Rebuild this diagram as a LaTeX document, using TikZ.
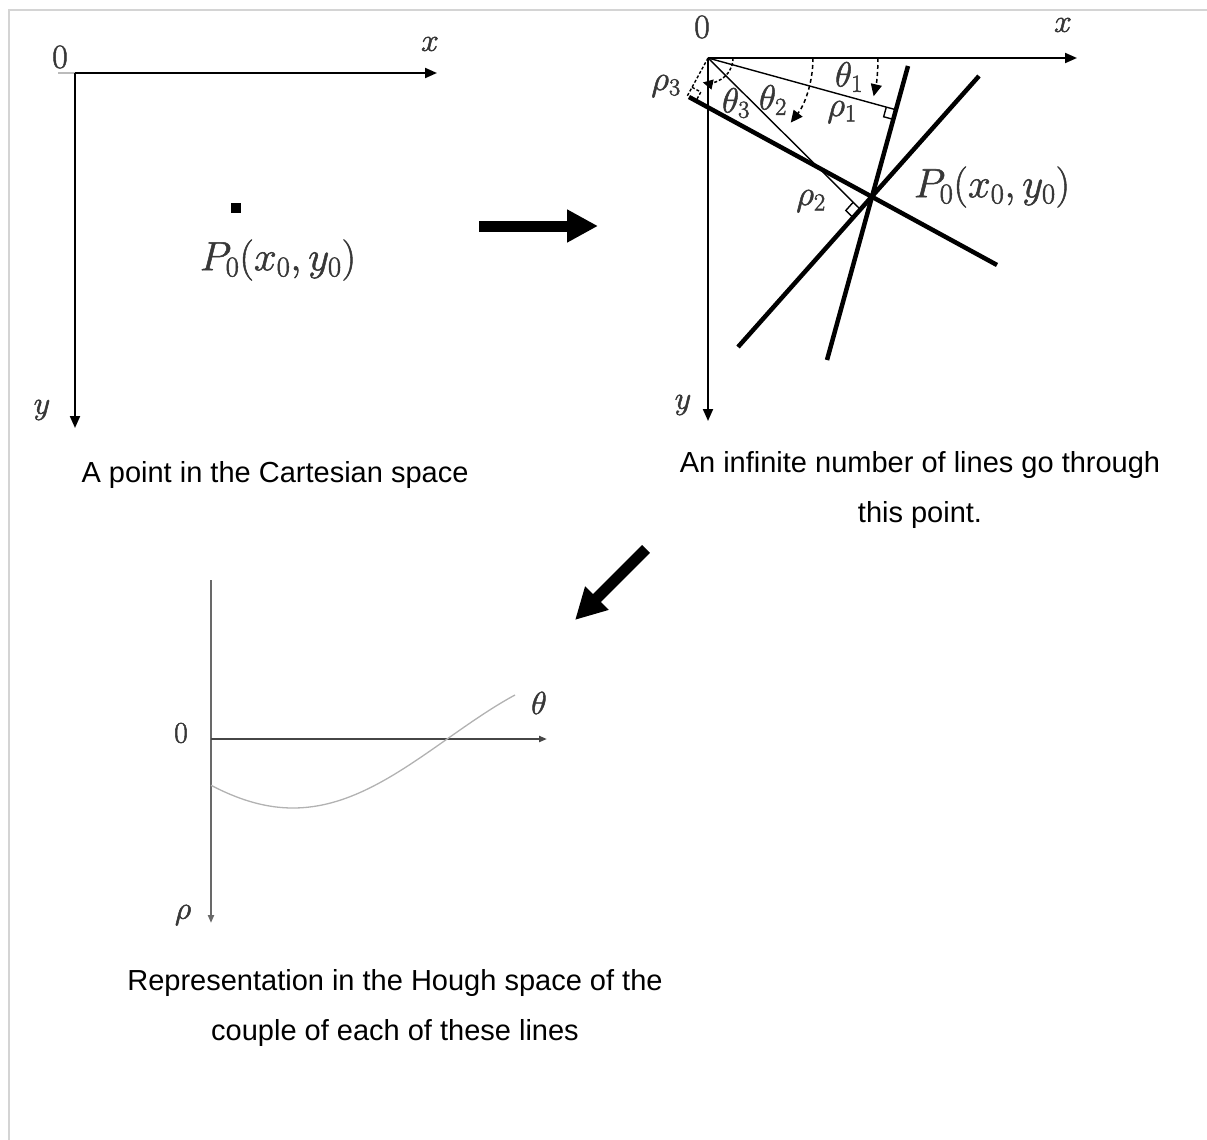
\RequirePackage{fix-cm}
\documentclass[tikz,border=0pt]{standalone}
\usepackage{fontspec}
\newfontfamily\capfont{Liberation Sans}
\usetikzlibrary{arrows.meta,calc}
\definecolor{bordergray}{RGB}{212,212,212}
\definecolor{labelgray}{RGB}{55,55,55}
\definecolor{curvegray}{RGB}{178,178,178}
\definecolor{axisgray}{RGB}{105,105,105}
\definecolor{haxisgray}{RGB}{70,70,70}
\newcommand\heavytext[1]{\special{pdf:literal direct 2 Tr 0.5 w}#1\special{pdf:literal direct 0 Tr}}
\begin{document}
\begin{tikzpicture}[x=1pt,y=-1pt,
  caption/.style={font=\capfont\fontsize{29}{50}\selectfont, text=black, align=center, inner sep=0pt},
  mlabel/.style={text=labelgray, inner sep=0pt, font=\fontsize{32}{32}\selectfont},
  glabel/.style={text=labelgray, inner sep=0pt, font=\fontsize{35}{35}\selectfont},
  zlabel/.style={text=labelgray, inner sep=0pt, font=\fontsize{34}{34}\selectfont},
  plabel/.style={text=labelgray, inner sep=0pt, font=\fontsize{41}{41}\selectfont},
  axis/.style={line width=2pt, -{Triangle[length=12pt,width=10pt]}},
  haxis/.style={line width=2pt, -{Triangle[length=8pt,width=6pt]}},
  thickline/.style={line width=4.5pt},
  thinline/.style={line width=1.4pt},
  dashthin/.style={line width=1.4pt, dash pattern=on 3pt off 2pt},
  anglearc/.style={line width=1.5pt, dash pattern=on 4pt off 3pt, -{Triangle[length=12pt,width=11pt]}},
  bigarrow/.style={line width=11pt, -{Triangle[length=31pt,width=31pt]}},
]
\useasboundingbox (0,0) rectangle (1207,1140);

% frame
\coordinate (bTR) at (1207,10);
\coordinate (bTL) at (9,10);
\coordinate (bBL) at (9,1140);
\draw[bordergray, line width=2pt] (bTR) -- (bTL) -- (bBL);

% ---------- left panel ----------
\coordinate (O1) at (75,73);
\coordinate (X1) at (437,73);
\coordinate (Y1) at (75,428);
\coordinate (T1) at (58,73);
\draw[bordergray!70!gray, line width=1.5pt] (T1) -- (O1);
\draw[axis] (O1) -- (X1);
\draw[axis] (O1) -- (Y1);
\node[zlabel] (zero1) at (60,57) {\heavytext{$0$}};
\node[mlabel] (xl1) at (430,44) {\heavytext{$x$}};
\node[mlabel] (yl1) at (42,410) {\heavytext{$y$}};
\node[fill=black, minimum size=10pt, inner sep=0pt] (pt1) at (236,208) {};
\node[plabel] (P1) at (278,260) {\heavytext{$P_0(x_0,y_0)$}};
\node[caption] (cap1) at (275,475) {A point in the Cartesian space};

% ---------- block arrows ----------
\coordinate (a1s) at (479,226);
\coordinate (a1e) at (598,226);
\draw[bigarrow] (a1s) -- (a1e);
\coordinate (a2s) at (646,549);
\coordinate (a2e) at (575,620);
\draw[bigarrow] (a2s) -- (a2e);

% ---------- right panel ----------
\coordinate (O2) at (708,58);
\coordinate (X2) at (1077,58);
\coordinate (Y2) at (708,421);
\draw[axis] (O2) -- (X2);
\draw[axis] (O2) -- (Y2);
\node[zlabel] (zero2) at (702,27) {\heavytext{$0$}};
\node[mlabel] (xl2) at (1063,25) {\heavytext{$x$}};
\node[mlabel] (yl2) at (683,405) {\heavytext{$y$}};

\coordinate (P2) at (873,197);
\coordinate (L1a) at (908,66);
\coordinate (L1b) at (827,360);
\coordinate (L2a) at (738,347);
\coordinate (L2b) at (979,76);
\coordinate (L3a) at (689,97);
\coordinate (L3b) at (997,265);
\draw[thickline] (L1a) -- (L1b);
\draw[thickline] (L2a) -- (L2b);
\draw[thickline] (L3a) -- (L3b);

% perpendiculars
\coordinate (F1) at ($(L1a)!(O2)!(L1b)$);
\coordinate (F2) at (861,210);
\coordinate (F3) at ($(L3a)!(O2)!(L3b)$);
\draw[thinline] (O2) -- (F1);
\draw[thinline] (O2) -- (F2);
\draw[dashthin] (O2) -- (F3);

% right-angle marks
\coordinate (F1o) at ($(F1)!10pt!(O2)$);
\coordinate (F1l) at ($(F1)!10pt!(L1b)$);
\draw[thinline] (F1o) -- ($(F1o)+(F1l)-(F1)$) -- (F1l);
\coordinate (F2o) at ($(F2)!11pt!(O2)$);
\coordinate (F2l) at ($(F2)!11pt!(L2a)$);
\draw[thinline] (F2o) -- ($(F2o)+(F2l)-(F2)$) -- (F2l);
\coordinate (F3o) at ($(F3)!10pt!(O2)$);
\coordinate (F3l) at ($(F3)!10pt!(L3b)$);
\draw[dashthin] (F3o) -- ($(F3o)+(F3l)-(F3)$) -- (F3l);

% angle arcs
\coordinate (A1s) at ($(O2)+(170,0)$);
\coordinate (A2s) at ($(O2)+(105,0)$);
\coordinate (A3s) at ($(O2)+(25,0)$);
\draw[anglearc] (A1s) arc[start angle=0, end angle=13, radius=170];
\draw[anglearc] (A2s) arc[start angle=0, end angle=38, radius=105];
\draw[line width=1.5pt, dash pattern=on 3pt off 2pt, -{Triangle[length=10pt,width=10pt]}] (A3s) arc[start angle=0, end angle=102, radius=25];

% labels
\node[glabel] (th1) at (849,77) {\heavytext{$\theta_1$}};
\node[glabel] (rh1) at (842,112) {\heavytext{$\rho_1$}};
\node[glabel] (th2) at (773,100) {\heavytext{$\theta_2$}};
\node[glabel] (th3) at (736,103) {\heavytext{$\theta_3$}};
\node[glabel] (rh3) at (666,86) {\heavytext{$\rho_3$}};
\node[glabel] (rh2) at (811,201) {\heavytext{$\rho_2$}};
\node[plabel] (P2l) at (992,187) {\heavytext{$P_0(x_0,y_0)$}};
\node[caption] (cap2) at (920,490) {An infinite number of lines go through\\this point.};

% ---------- Hough panel ----------
\coordinate (O3) at (211,739);
\coordinate (V3top) at (211,580);
\coordinate (V3bot) at (211,923);
\coordinate (H3end) at (547,739);
\draw[haxis, axisgray] (V3top) -- (V3bot);
\draw[haxis, haxisgray, line width=2.5pt] (O3) -- (H3end);
\draw[curvegray, line width=1.3pt] plot[domain=211:515, samples=100, smooth] (\x, {739+69*cos(deg(0.0102*(\x-293)))});
\node[zlabel, font=\fontsize{30}{30}\selectfont] (zero3) at (181,733) {\heavytext{$0$}};
\node[mlabel] (thl) at (539,703) {\heavytext{$\theta$}};
\node[mlabel] (rhl) at (183,915) {\heavytext{$\rho$}};
\node[caption] (cap3) at (395,1008) {Representation in the Hough space of the\\couple of each of these lines};
\end{tikzpicture}
\end{document}
